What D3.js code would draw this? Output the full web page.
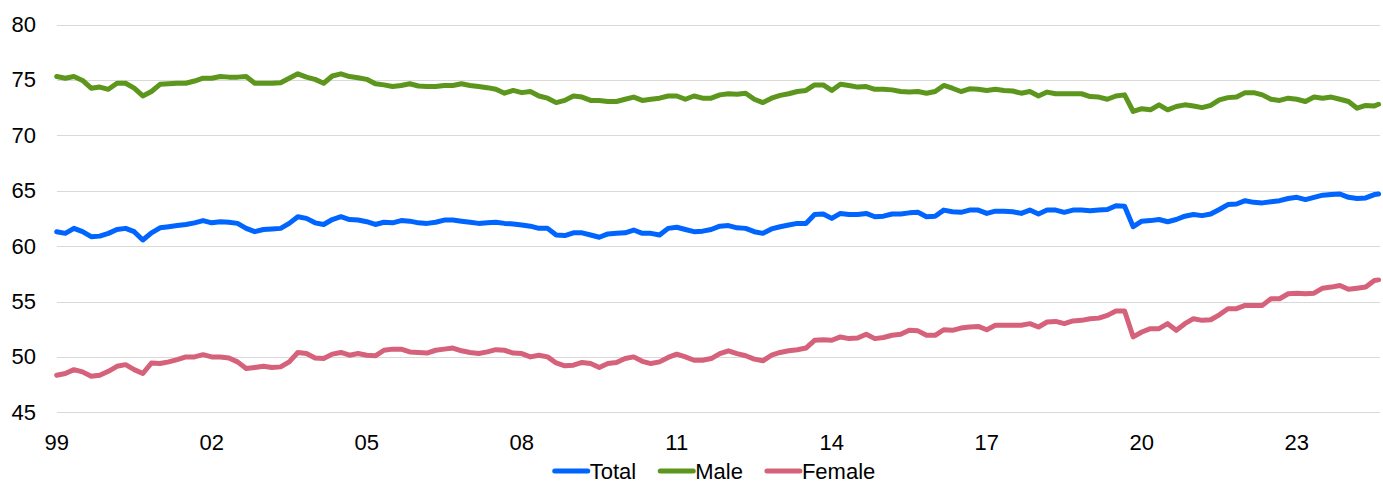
<!DOCTYPE html>
<html><head><meta charset="utf-8">
<script src="https://cdn.jsdelivr.net/npm/d3@7"></script>
<style>
body{margin:0;background:#fff}
svg{display:block}
text{font-family:"Liberation Sans",Arial,Helvetica,sans-serif;fill:#000}
</style>
</head><body>
<svg id="chart" width="1383" height="483"></svg>
<script>
// months since Jan 1999, sampled every two months, plus the last month
const monthIndex = [...d3.range(0, 307, 2), 307];

const total = [61.3,61.15,61.6,61.3,60.85,60.9,61.15,61.5,61.6,61.3,60.55,61.2,61.65,61.75,61.85,61.95,62.1,62.3,62.1,62.2,62.15,62.05,61.6,61.3,61.5,
61.55,61.6,62.05,62.65,62.5,62.1,61.95,62.4,62.65,62.4,62.35,62.2,61.95,62.15,62.1,62.3,62.25,62.1,62.05,62.15,62.35,62.35,62.25,62.15,62.05,
62.1,62.15,62.05,62.0,61.9,61.8,61.6,61.6,61.0,60.95,61.2,61.2,61.0,60.8,61.1,61.15,61.2,61.45,61.15,61.15,61.0,61.6,61.7,61.5,61.3,
61.35,61.5,61.8,61.85,61.65,61.6,61.3,61.15,61.55,61.75,61.9,62.05,62.05,62.85,62.9,62.5,62.95,62.85,62.85,62.95,62.65,62.7,62.9,62.9,63.0,
63.05,62.65,62.7,63.25,63.1,63.05,63.25,63.25,62.95,63.15,63.15,63.1,62.95,63.25,62.9,63.25,63.25,63.05,63.25,63.25,63.2,63.25,63.3,63.65,63.6,61.75,
62.25,62.3,62.4,62.2,62.4,62.7,62.85,62.75,62.9,63.3,63.75,63.8,64.1,63.95,63.9,64.0,64.1,64.3,64.4,64.2,64.4,64.6,64.65,64.7,64.4,64.3,64.35,64.65,64.7];

const male = [75.3,75.15,75.3,74.95,74.25,74.35,74.15,74.7,74.7,74.25,73.55,73.95,74.6,74.65,74.7,74.7,74.9,75.15,75.15,75.3,75.25,75.25,75.3,74.7,74.7,
74.7,74.75,75.15,75.55,75.25,75.05,74.7,75.35,75.55,75.3,75.2,75.05,74.65,74.55,74.4,74.5,74.65,74.45,74.4,74.4,74.5,74.5,74.65,74.5,74.4,
74.3,74.15,73.8,74.05,73.85,73.95,73.55,73.35,72.95,73.15,73.55,73.45,73.15,73.15,73.05,73.05,73.25,73.45,73.15,73.25,73.35,73.55,73.55,73.25,73.55,
73.35,73.35,73.65,73.75,73.7,73.8,73.25,72.95,73.35,73.6,73.75,73.95,74.05,74.55,74.55,74.05,74.6,74.5,74.35,74.4,74.15,74.15,74.1,73.95,73.9,
73.95,73.8,73.95,74.5,74.25,73.95,74.2,74.15,74.05,74.15,74.05,74.0,73.8,73.95,73.55,73.9,73.75,73.75,73.75,73.75,73.5,73.45,73.25,73.55,73.65,72.15,
72.4,72.3,72.75,72.3,72.6,72.75,72.65,72.5,72.7,73.2,73.4,73.45,73.85,73.85,73.65,73.25,73.15,73.35,73.25,73.05,73.45,73.35,73.45,73.25,73.05,72.45,72.7,72.65,72.8];

const female = [48.35,48.5,48.85,48.65,48.25,48.35,48.7,49.15,49.3,48.85,48.5,49.45,49.4,49.55,49.75,50.0,50.0,50.2,50.0,50.0,49.9,49.55,48.95,49.05,49.15,
49.05,49.1,49.55,50.4,50.3,49.9,49.85,50.25,50.4,50.15,50.3,50.15,50.1,50.6,50.7,50.7,50.45,50.4,50.35,50.6,50.7,50.8,50.55,50.4,50.3,
50.45,50.65,50.6,50.35,50.3,50.0,50.15,50.0,49.45,49.2,49.25,49.5,49.4,49.05,49.4,49.5,49.85,50.0,49.6,49.4,49.55,49.95,50.25,50.0,49.7,
49.7,49.85,50.3,50.55,50.3,50.1,49.8,49.65,50.15,50.4,50.55,50.65,50.8,51.5,51.55,51.5,51.8,51.65,51.7,52.05,51.65,51.75,51.95,52.05,52.4,
52.35,51.95,51.95,52.45,52.4,52.6,52.7,52.75,52.45,52.85,52.85,52.85,52.85,53.0,52.7,53.15,53.2,53.0,53.25,53.3,53.45,53.5,53.75,54.15,54.15,51.8,
52.25,52.55,52.55,53.0,52.4,53.0,53.45,53.3,53.35,53.8,54.35,54.35,54.65,54.65,54.65,55.25,55.25,55.7,55.75,55.7,55.75,56.2,56.3,56.45,56.1,56.2,56.3,56.9,56.95];

const yTicks = [45, 50, 55, 60, 65, 70, 75, 80];
const xTickMonths = [0, 36, 72, 108, 144, 180, 216, 252, 288];
const xTickLabels = ["99", "02", "05", "08", "11", "14", "17", "20", "23"];
const seriesNames = ["Total", "Male", "Female"];
const seriesColors = ["#0064ff", "#5c961c", "#d5627a"];

const svg = d3.select("#chart");
const plotLeft = 57, plotRight = 1380;
const pxPerMonth = 4.306;
const x = d3.scaleLinear().domain([0, 307]).range([56.7, 56.7 + 307 * pxPerMonth]);
const y = d3.scaleLinear().domain([45, 80]).range([412.3, 24.5]);

// gridlines
svg.append("g").selectAll("line").data(yTicks).join("line")
  .attr("x1", plotLeft).attr("x2", plotRight)
  .attr("y1", d => Math.round(y(d)) + 0.5).attr("y2", d => Math.round(y(d)) + 0.5)
  .attr("stroke", "#d9d9d9").attr("stroke-width", 1);

// y labels
svg.append("g").selectAll("text").data(yTicks).join("text")
  .attr("x", 36).attr("y", d => y(d))
  .attr("text-anchor", "end").attr("dominant-baseline", "central")
  .attr("font-size", 22).text(d => d);

// x labels
svg.append("g").selectAll("text").data(xTickMonths).join("text")
  .attr("x", d => x(d)).attr("y", 442)
  .attr("text-anchor", "middle").attr("dominant-baseline", "central")
  .attr("font-size", 22).text((d, i) => xTickLabels[i]);

// lines
const seriesData = [total, male, female];
const line = d3.line().x((d, i) => x(monthIndex[i])).y(d => y(d));
seriesData.forEach((vals, k) => {
  svg.append("path").datum(vals)
    .attr("d", line)
    .attr("fill", "none")
    .attr("stroke", seriesColors[k])
    .attr("stroke-width", 5)
    .attr("stroke-linejoin", "round")
    .attr("stroke-linecap", "round");
});

// legend
const legend = svg.append("g");
const items = legend.selectAll("g").data(seriesNames).join("g");
items.append("line").attr("x1", 0).attr("x2", 33).attr("y1", 0).attr("y2", 0)
  .attr("stroke", (d, i) => seriesColors[i]).attr("stroke-width", 5).attr("stroke-linecap", "round");
items.append("text").attr("x", 35).attr("y", 0).attr("dominant-baseline", "central")
  .attr("font-size", 22).text(d => d);
const widths = [];
items.each(function () { widths.push(35 + this.querySelector("text").getComputedTextLength()); });
const gap = 24;
const totalW = d3.sum(widths) + gap * (widths.length - 1);
let start = 715 - totalW / 2;
items.attr("transform", (d, i) => {
  const t = `translate(${start},471)`;
  start += widths[i] + gap;
  return t;
});
</script>
</body></html>
